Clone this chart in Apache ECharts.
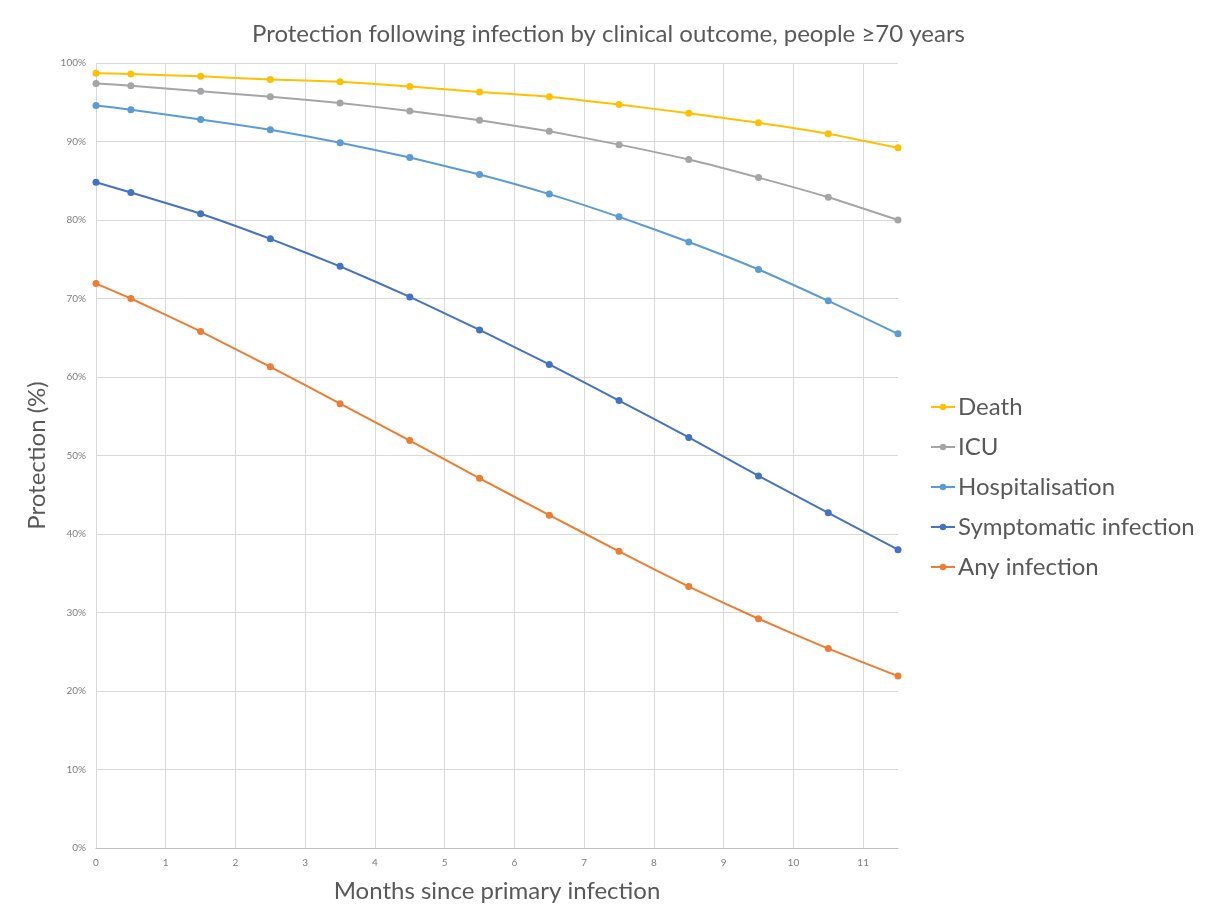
<!DOCTYPE html>
<html><head><meta charset="utf-8">
<script src="https://cdn.jsdelivr.net/npm/echarts@6/dist/echarts.min.js"></script>
<style>html,body{margin:0;padding:0;background:#fff}#c{width:1206px;height:920px}</style>
</head><body><div id="c"></div>
<script>
const months = [0, 0.5, 1.5, 2.5, 3.5, 4.5, 5.5, 6.5, 7.5, 8.5, 9.5, 10.5, 11.5];
const death = [98.7, 98.6, 98.3, 97.9, 97.6, 97.0, 96.3, 95.7, 94.7, 93.6, 92.4, 91.0, 89.2];
const icu = [97.4, 97.1, 96.4, 95.7, 94.9, 93.9, 92.7, 91.3, 89.6, 87.7, 85.4, 82.9, 80.0];
const hosp = [94.6, 94.05, 92.8, 91.5, 89.85, 87.95, 85.8, 83.3, 80.4, 77.2, 73.7, 69.7, 65.5];
const symp = [84.8, 83.5, 80.8, 77.6, 74.1, 70.2, 66.0, 61.6, 57.0, 52.3, 47.4, 42.7, 38.0];
const anyInf = [71.9, 70.0, 65.8, 61.3, 56.6, 51.9, 47.1, 42.4, 37.8, 33.3, 29.2, 25.4, 21.9];
const names = ['Death', 'ICU', 'Hospitalisation', 'Symptomatic infection', 'Any infection'];
const colors = ['#FFC000', '#A5A5A5', '#5B9BD5', '#4472C4', '#ED7D31'];
const values = [death, icu, hosp, symp, anyInf];

const FONT = 'Lato, "Open Sans", sans-serif';
const chart = echarts.init(document.getElementById('c'), null, {renderer: 'canvas'});
chart.setOption({
  animation: false,
  textStyle: {fontFamily: FONT},
  title: {
    text: 'Protection following infection by clinical outcome, people \u226570 years',
    left: 247, top: 17,
    textStyle: {fontFamily: FONT, fontSize: 24, fontWeight: 'normal', color: '#595959'}
  },
  legend: {
    orient: 'vertical', left: 925, top: 389,
    itemWidth: 24, itemHeight: 8, itemGap: 14,
    data: names,
    textStyle: {fontFamily: FONT, fontSize: 24, color: '#595959', lineHeight: 26, padding: [0, 0, 0, -2]}
  },
  grid: {left: 96, right: 308, top: 63, bottom: 72},
  xAxis: {
    type: 'value', min: 0, max: 11.5, interval: 1,
    name: 'Months since primary infection', nameLocation: 'middle', nameGap: 31,
    nameTextStyle: {fontFamily: FONT, fontSize: 24, color: '#595959'},
    axisLine: {show: true, lineStyle: {color: '#BFBFBF', width: 1}},
    axisTick: {show: false},
    axisLabel: {color: '#7f7f7f', fontSize: 10, margin: 10, showMaxLabel: false},
    splitLine: {show: true, showMaxLine: false, lineStyle: {color: '#D9D9D9', width: 1}}
  },
  yAxis: {
    type: 'value', min: 0, max: 100, interval: 10,
    name: 'Protection (%)', nameLocation: 'middle', nameGap: 44,
    nameTextStyle: {fontFamily: FONT, fontSize: 24, color: '#595959'},
    axisLine: {show: false},
    axisTick: {show: false},
    axisLabel: {color: '#7f7f7f', fontSize: 10, margin: 10, formatter: '{value}%'},
    splitLine: {show: true, lineStyle: {color: '#D9D9D9', width: 1}}
  },
  series: names.map((n, i) => ({
    name: n, type: 'line',
    data: months.map((m, j) => [m, values[i][j]]),
    color: colors[i],
    symbol: 'circle', symbolSize: 7,
    lineStyle: {width: 2, color: colors[i]},
    itemStyle: {color: colors[i]},
    smooth: 0.15
  }))
});
</script></body></html>
